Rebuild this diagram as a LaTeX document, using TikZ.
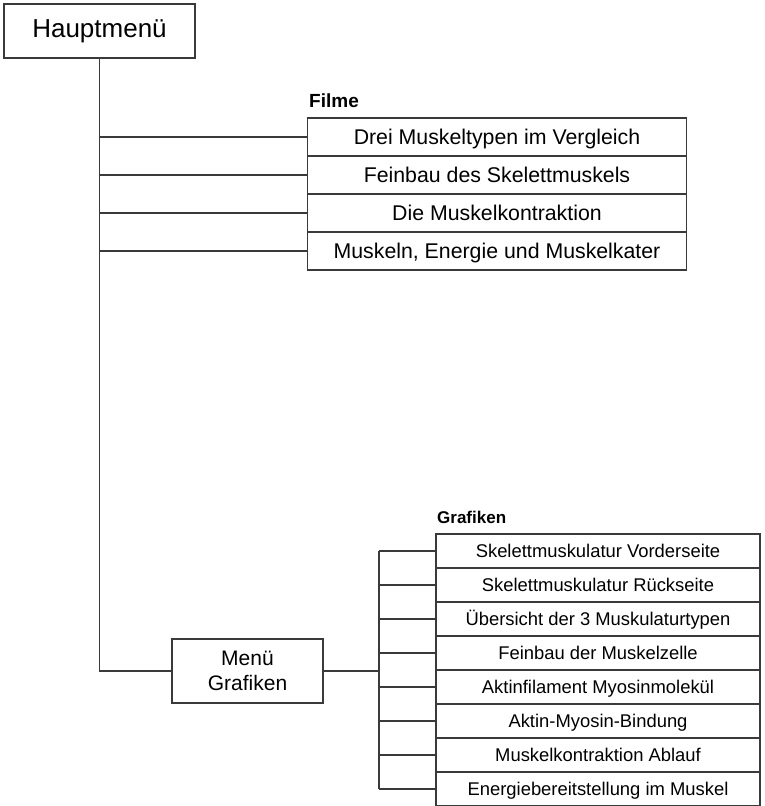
\documentclass[tikz,border=0pt]{standalone}
\usepackage{fontspec}
\setmainfont{Liberation Sans}
\usepackage{xcolor}
\usepackage{tikz}
\usetikzlibrary{positioning, calc}
\definecolor{menuline}{HTML}{3A3A3A}

\begin{document}
\begin{tikzpicture}[
    x=1pt, y=-1pt,
    every node/.style={font=\fontsize{21.3}{25}\selectfont},
    mainbox/.style={
        rectangle,
        draw=menuline,
        line width=2pt,
        minimum width=191pt,
        minimum height=54pt,
        font=\fontsize{26}{30}\selectfont
    },
    submenu/.style={
        rectangle,
        draw=menuline,
        line width=1.3pt,
        minimum width=151pt,
        minimum height=64pt,
        align=center,
        font=\fontsize{21}{25}\selectfont
    },
    filmitem/.style={
        rectangle,
        draw=menuline,
        line width=1.3pt,
        outer sep=0pt,
        minimum width=379pt,
        minimum height=38pt,
        text height=15.2pt,
        text depth=0pt,
        text centered
    },
    grafitem/.style={
        rectangle,
        draw=menuline,
        line width=1.3pt,
        outer sep=0pt,
        minimum width=324pt,
        minimum height=34pt,
        text height=13.2pt,
        text depth=0pt,
        text centered,
        font=\fontsize{18.4}{22}\selectfont
    },
    grouptitle/.style={
        anchor=base west,
        inner sep=0pt,
        font=\fontsize{19}{22}\selectfont\bfseries
    },
    branch/.style={
        draw=menuline,
        line width=1.3pt
    }
]
\useasboundingbox (0,0) rectangle (764,806);

% Main menu
\node[mainbox] (haupt) at (99.5,31) {Hauptmenü};

% Films
\node[filmitem] (film1) at (497,137) {Drei Muskeltypen im Vergleich};
\node[filmitem, below=0pt of film1] (film2) {Feinbau des Skelettmuskels};
\node[filmitem, below=0pt of film2] (film3) {Die Muskelkontraktion};
\node[filmitem, below=0pt of film3] (film4) {Muskeln, Energie und Muskelkater};
\node[grouptitle] (filmtitle) at (309,107) {Filme};

% Graphics submenu
\node[submenu] (grafmenu) at (247.5,671) {Menü\\Grafiken};
\coordinate (hub) at (379,671);

\node[grafitem] (graf1) at (598,551) {Skelettmuskulatur Vorderseite};
\node[grafitem, below=0pt of graf1] (graf2) {Skelettmuskulatur Rückseite};
\node[grafitem, below=0pt of graf2] (graf3) {Übersicht der 3 Muskulaturtypen};
\node[grafitem, below=0pt of graf3] (graf4) {Feinbau der Muskelzelle};
\node[grafitem, below=0pt of graf4] (graf5) {Aktinfilament Myosinmolekül};
\node[grafitem, below=0pt of graf5] (graf6) {Aktin-Myosin-Bindung};
\node[grafitem, below=0pt of graf6] (graf7) {Muskelkontraktion Ablauf};
\node[grafitem, below=0pt of graf7] (graf8) {Energiebereitstellung im Muskel};
\node[grouptitle, font=\fontsize{17}{20}\selectfont\bfseries] (graftitle) at (437,523) {Grafiken};

% Main trunk
\draw[branch] (haupt.south) |- (grafmenu.west);

% Film branches
\draw[branch] (haupt.south |- film1.west) -- (film1.west);
\draw[branch] (haupt.south |- film2.west) -- (film2.west);
\draw[branch] (haupt.south |- film3.west) -- (film3.west);
\draw[branch] (haupt.south |- film4.west) -- (film4.west);

% Graphics branches
\draw[branch, line width=2pt] (grafmenu.east) -- (hub);
\draw[branch] (hub |- graf1.west) -- (hub |- graf8.west);
\draw[branch] (hub |- graf1.west) -- (graf1.west);
\draw[branch] (hub |- graf2.west) -- (graf2.west);
\draw[branch] (hub |- graf3.west) -- (graf3.west);
\draw[branch] (hub |- graf4.west) -- (graf4.west);
\draw[branch] (hub |- graf5.west) -- (graf5.west);
\draw[branch] (hub |- graf6.west) -- (graf6.west);
\draw[branch] (hub |- graf7.west) -- (graf7.west);
\draw[branch] (hub |- graf8.west) -- (graf8.west);

\end{tikzpicture}
\end{document}
